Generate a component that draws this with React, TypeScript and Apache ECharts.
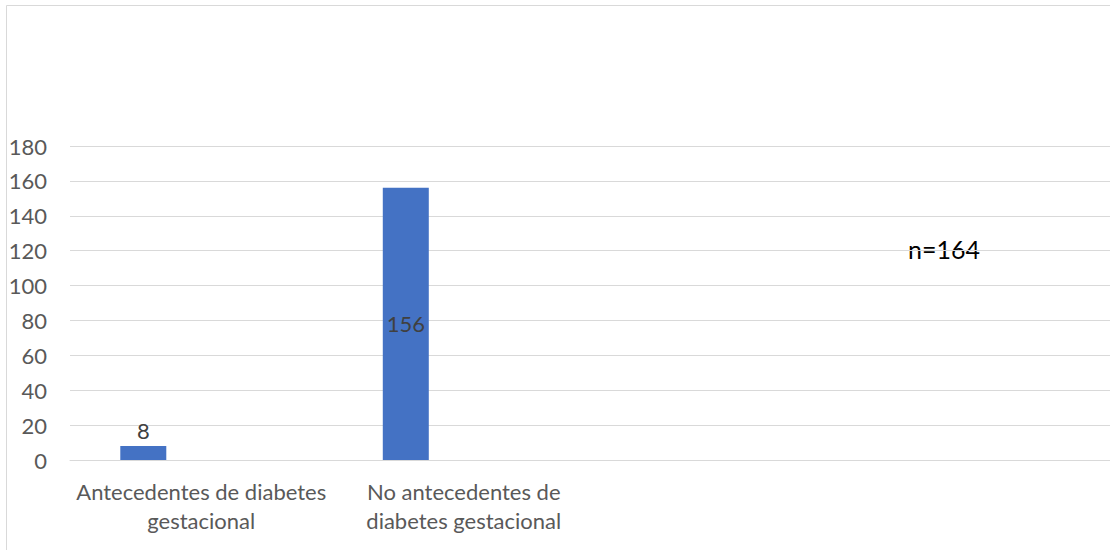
import React, { useEffect, useRef } from "react";
import * as echarts from "echarts";

const categories = [
  "Antecedentes de diabetes\ngestacional",
  "No antecedentes de\ndiabetes gestacional",
  "",
  "",
];
const counts = [8, 156, null, null];
const emptySeries = [null, null, null, null];
const totalLabel = "n=164";

const FONT = "Lato, 'Noto Sans', sans-serif";
const BAR = "#4472C4";
const GRID = "#d9d9d9";

export default function App() {
  const ref = useRef<HTMLDivElement>(null);

  useEffect(() => {
    if (!ref.current) return;
    const chart = echarts.init(ref.current, null, { renderer: "svg" });
    chart.setOption({
      animation: false,
      backgroundColor: "#ffffff",
      textStyle: { fontFamily: FONT },
      grid: { left: 70, top: 146, width: 1050, height: 314, containLabel: false },
      xAxis: {
        type: "category",
        data: categories,
        axisLine: { show: true, lineStyle: { color: GRID, width: 1 } },
        axisTick: { show: false },
        splitLine: { show: false },
        axisLabel: {
          interval: 0,
          fontFamily: FONT,
          fontSize: 22,
          lineHeight: 29,
          color: "#595959",
          margin: 17,
        },
      },
      yAxis: {
        type: "value",
        min: 0,
        max: 180,
        interval: 20,
        axisLine: { show: false },
        axisTick: { show: false },
        splitLine: { show: true, lineStyle: { color: GRID, width: 1 } },
        axisLabel: {
          fontFamily: FONT,
          fontSize: 22,
          color: "#595959",
          margin: 23,
        },
      },
      series: [
        {
          type: "bar",
          barWidth: 46,
          barGap: "152%",
          itemStyle: { color: BAR },
          data: counts.map((v, i) =>
            v === null
              ? "-"
              : {
                  value: v,
                  label: { position: i === 0 ? "top" : "inside" },
                }
          ),
          label: {
            show: true,
            fontFamily: FONT,
            fontSize: 22,
            color: "#404040",
            distance: 5,
          },
        },
        {
          type: "bar",
          barWidth: 46,
          itemStyle: { color: "#ED7D31" },
          data: emptySeries.map(() => "-"),
        },
      ],
      graphic: [
        {
          type: "rect",
          silent: true,
          shape: { x: 6.5, y: 5.5, width: 2000, height: 2000 },
          style: { fill: "none", stroke: GRID, lineWidth: 1 },
        },
        {
          type: "text",
          silent: true,
          x: 908,
          y: 249,
          style: {
            text: totalLabel,
            fontFamily: FONT,
            fontSize: 25,
            fill: "#000000",
            stroke: "none",
            lineWidth: 0,
            textVerticalAlign: "middle",
            textAlign: "left",
          },
        },
      ],
    });
    return () => chart.dispose();
  }, []);

  return (
    <div
      style={{
        position: "fixed",
        left: 0,
        top: 0,
        width: 1110,
        height: 550,
        overflow: "hidden",
        background: "#ffffff",
      }}
    >
      <div ref={ref} style={{ width: 1140, height: 550 }} />
    </div>
  );
}
